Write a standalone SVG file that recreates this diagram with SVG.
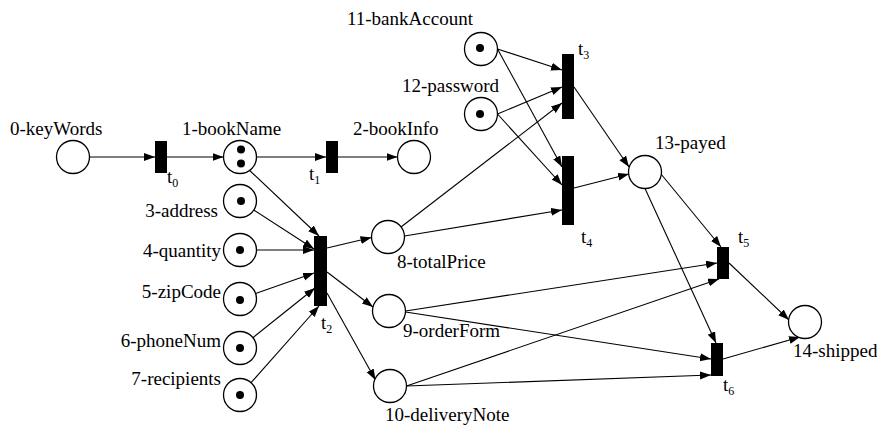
<svg xmlns="http://www.w3.org/2000/svg" width="877" height="428" viewBox="0 0 877 428" font-family="'Liberation Serif', 'DejaVu Serif', serif">
  <style>
    .place { fill: #fff; stroke: #000; stroke-width: 1.3; }
    .token { fill: #000; }
    .trans { fill: #000; }
    text { font-family: 'Liberation Serif', 'DejaVu Serif', serif; font-size: 19px; fill: #000; }
    .sub { font-size: 12px; }
    .arc { stroke: #000; stroke-width: 1.1; fill: none; marker-end: url(#arrow); }
  </style>
  <defs>
    <marker id="arrow" markerUnits="userSpaceOnUse" markerWidth="12" markerHeight="9" refX="11" refY="4" orient="auto">
      <path d="M0,0 L11,4 L0,8 z" fill="#000"/>
    </marker>
  </defs>

  <rect width="877" height="428" fill="#fff"/>

  <!-- connectors -->
  <g id="arcs">
    <line class="arc" x1="89.5" y1="157" x2="155" y2="157"/>
    <line class="arc" x1="167" y1="157" x2="223.5" y2="157"/>
    <line class="arc" x1="256.5" y1="157" x2="326" y2="157"/>
    <line class="arc" x1="338" y1="157" x2="397.5" y2="157"/>

    <line class="arc" x1="247" y1="168" x2="319" y2="236"/>
    <line class="arc" x1="253.7" y1="210" x2="314" y2="249"/>
    <line class="arc" x1="256.5" y1="250" x2="314" y2="250"/>
    <line class="arc" x1="255.6" y1="293.5" x2="314" y2="273"/>
    <line class="arc" x1="252.9" y1="337.7" x2="315" y2="288"/>
    <line class="arc" x1="251" y1="382.7" x2="319" y2="306"/>

    <line class="arc" x1="327" y1="248" x2="371.5" y2="237.5"/>
    <line class="arc" x1="327" y1="272" x2="373" y2="307"/>
    <line class="arc" x1="327" y1="293" x2="375.5" y2="380"/>

    <line class="arc" x1="401" y1="227" x2="562" y2="103"/>
    <line class="arc" x1="404.5" y1="236" x2="562" y2="210"/>

    <line class="arc" x1="497.5" y1="49" x2="562" y2="70"/>
    <line class="arc" x1="497.5" y1="49" x2="562" y2="167"/>
    <line class="arc" x1="497.5" y1="114" x2="562" y2="87"/>
    <line class="arc" x1="497.5" y1="114" x2="562" y2="185"/>

    <line class="arc" x1="574" y1="87" x2="629" y2="167"/>
    <line class="arc" x1="574" y1="188" x2="629" y2="174"/>

    <line class="arc" x1="661" y1="174" x2="721" y2="247"/>
    <line class="arc" x1="645" y1="188.5" x2="716" y2="343"/>

    <line class="arc" x1="405.5" y1="311" x2="717" y2="263"/>
    <line class="arc" x1="406.5" y1="386" x2="719" y2="279"/>
    <line class="arc" x1="405.5" y1="312" x2="711" y2="359"/>
    <line class="arc" x1="406.5" y1="386" x2="711" y2="375"/>

    <line class="arc" x1="729" y1="263" x2="789" y2="320"/>
    <line class="arc" x1="723" y1="359" x2="800" y2="337"/>
  </g>

  <!-- places -->
  <g id="p0"><circle class="place" cx="73" cy="157" r="16.5"/><text x="10" y="135">0-keyWords</text></g>
  <g id="p1"><circle class="place" cx="240" cy="157" r="16.5"/><circle class="token" cx="241" cy="149.5" r="4"/><circle class="token" cx="241" cy="163.5" r="4"/><text x="182" y="135">1-bookName</text></g>
  <g id="p2"><circle class="place" cx="414" cy="157" r="16.5"/><text x="353" y="135">2-bookInfo</text></g>
  <g id="p3"><circle class="place" cx="240" cy="201" r="16.5"/><circle class="token" cx="241" cy="201" r="4"/><text x="218" y="216.5" text-anchor="end">3-address</text></g>
  <g id="p4"><circle class="place" cx="240" cy="250" r="16.5"/><circle class="token" cx="240" cy="250" r="4"/><text x="221" y="256.5" text-anchor="end">4-quantity</text></g>
  <g id="p5"><circle class="place" cx="240" cy="299" r="16.5"/><circle class="token" cx="240" cy="300" r="4"/><text x="221" y="298" text-anchor="end">5-zipCode</text></g>
  <g id="p6"><circle class="place" cx="240" cy="348" r="16.5"/><circle class="token" cx="240" cy="348" r="4"/><text x="221" y="347" text-anchor="end">6-phoneNum</text></g>
  <g id="p7"><circle class="place" cx="240" cy="395" r="16.5"/><circle class="token" cx="240" cy="395" r="4"/><text x="221" y="385" text-anchor="end">7-recipients</text></g>
  <g id="p8"><circle class="place" cx="388" cy="237" r="16.5"/><text x="397" y="268">8-totalPrice</text></g>
  <g id="p9"><circle class="place" cx="389" cy="311" r="16.5"/><text x="403" y="337">9-orderForm</text></g>
  <g id="p10"><circle class="place" cx="390" cy="386" r="16.5"/><text x="385" y="421">10-deliveryNote</text></g>
  <g id="p11"><circle class="place" cx="481" cy="49" r="16.5"/><circle class="token" cx="480" cy="48" r="4"/><text x="347" y="25">11-bankAccount</text></g>
  <g id="p12"><circle class="place" cx="481" cy="114" r="16.5"/><circle class="token" cx="480" cy="114" r="4"/><text x="402" y="92">12-password</text></g>
  <g id="p13"><circle class="place" cx="645" cy="172" r="16.5"/><text x="655" y="149">13-payed</text></g>
  <g id="p14"><circle class="place" cx="805" cy="322" r="16.5"/><text x="793" y="357">14-shipped</text></g>

  <!-- transitions -->
  <g id="t0"><rect class="trans" x="155" y="141" width="12" height="32"/><text x="167" y="183">t<tspan class="sub" dy="4">0</tspan></text></g>
  <g id="t1"><rect class="trans" x="326" y="141" width="12" height="32"/><text x="309" y="180">t<tspan class="sub" dy="4">1</tspan></text></g>
  <g id="t2"><rect class="trans" x="314" y="236" width="13" height="70"/><text x="321" y="329">t<tspan class="sub" dy="4">2</tspan></text></g>
  <g id="t3"><rect class="trans" x="562" y="54" width="12" height="65"/><text x="578" y="55">t<tspan class="sub" dy="4">3</tspan></text></g>
  <g id="t4"><rect class="trans" x="562" y="156" width="12" height="69"/><text x="581" y="243">t<tspan class="sub" dy="4">4</tspan></text></g>
  <g id="t5"><rect class="trans" x="717" y="247" width="12" height="32"/><text x="738" y="243">t<tspan class="sub" dy="4">5</tspan></text></g>
  <g id="t6"><rect class="trans" x="711" y="343" width="12" height="33"/><text x="723" y="391">t<tspan class="sub" dy="4">6</tspan></text></g>
</svg>
